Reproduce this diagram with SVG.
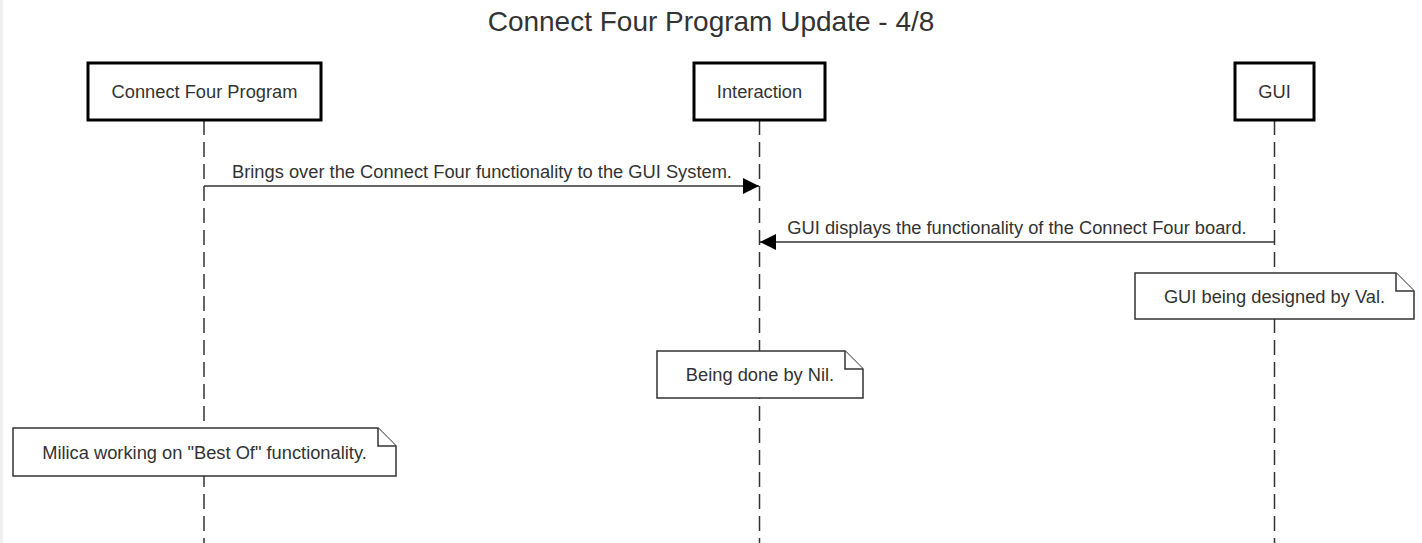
<svg xmlns="http://www.w3.org/2000/svg" width="1422" height="543" viewBox="0 0 1422 543">
<style>
text{font-family:"Liberation Sans",Arial,sans-serif;fill:#333}
.lbl{font-size:18.3px;text-anchor:middle}
.title{font-size:28px;text-anchor:middle}
.actor{fill:#fff;stroke:#000;stroke-width:3}
.life{stroke:#333;stroke-width:1.5;stroke-dasharray:15 7;fill:none}
.msg{stroke:#333;stroke-width:1.5;fill:none}
.note{fill:#fff;stroke:#333;stroke-width:1.5}
</style>
<defs>
<marker id="ah" viewBox="0 0 16 16" refX="16" refY="8" markerWidth="16" markerHeight="16" markerUnits="userSpaceOnUse" orient="auto">
<path d="M0,0 L16,8 L0,16 Z" fill="#000"/>
</marker>
</defs>
<rect x="0" y="0" width="1422" height="543" fill="#fff"/>
<rect x="0" y="0" width="3" height="543" fill="#f0f0f0"/>
<text class="title" x="711" y="31">Connect Four Program Update - 4/8</text>
<g id="lifelines">
<line class="life" x1="204" y1="120" x2="204" y2="543"/>
<line class="life" x1="759.5" y1="120" x2="759.5" y2="543"/>
<line class="life" x1="1274.5" y1="120" x2="1274.5" y2="543"/>
</g>
<g id="actor-program">
<rect class="actor" x="88" y="63" width="233" height="57"/>
<text class="lbl" x="204.5" y="98">Connect Four Program</text>
</g>
<g id="actor-interaction">
<rect class="actor" x="694" y="63" width="131" height="57"/>
<text class="lbl" x="759.5" y="98">Interaction</text>
</g>
<g id="actor-gui">
<rect class="actor" x="1235" y="63" width="79" height="57"/>
<text class="lbl" x="1274.5" y="98">GUI</text>
</g>
<g id="connectors">
<line class="msg" x1="204" y1="186" x2="759" y2="186" marker-end="url(#ah)"/>
<text class="lbl" x="482" y="178">Brings over the Connect Four functionality to the GUI System.</text>
<line class="msg" x1="1274" y1="242" x2="760" y2="242" marker-end="url(#ah)"/>
<text class="lbl" x="1017" y="234">GUI displays the functionality of the Connect Four board.</text>
</g>
<g id="note-gui">
<path class="note" d="M1135,273 H1396 L1414,291 V319 H1135 Z"/>
<path class="note" d="M1396,273 V291 H1414" fill="none"/>
<text class="lbl" x="1274.5" y="303">GUI being designed by Val.</text>
</g>
<g id="note-interaction">
<path class="note" d="M657,351 H845 L863,369 V398 H657 Z"/>
<path class="note" d="M845,351 V369 H863" fill="none"/>
<text class="lbl" x="760" y="381">Being done by Nil.</text>
</g>
<g id="note-program">
<path class="note" d="M13,428 H378 L396,446 V476 H13 Z"/>
<path class="note" d="M378,428 V446 H396" fill="none"/>
<text class="lbl" x="204.5" y="459">Milica working on "Best Of" functionality.</text>
</g>
</svg>
